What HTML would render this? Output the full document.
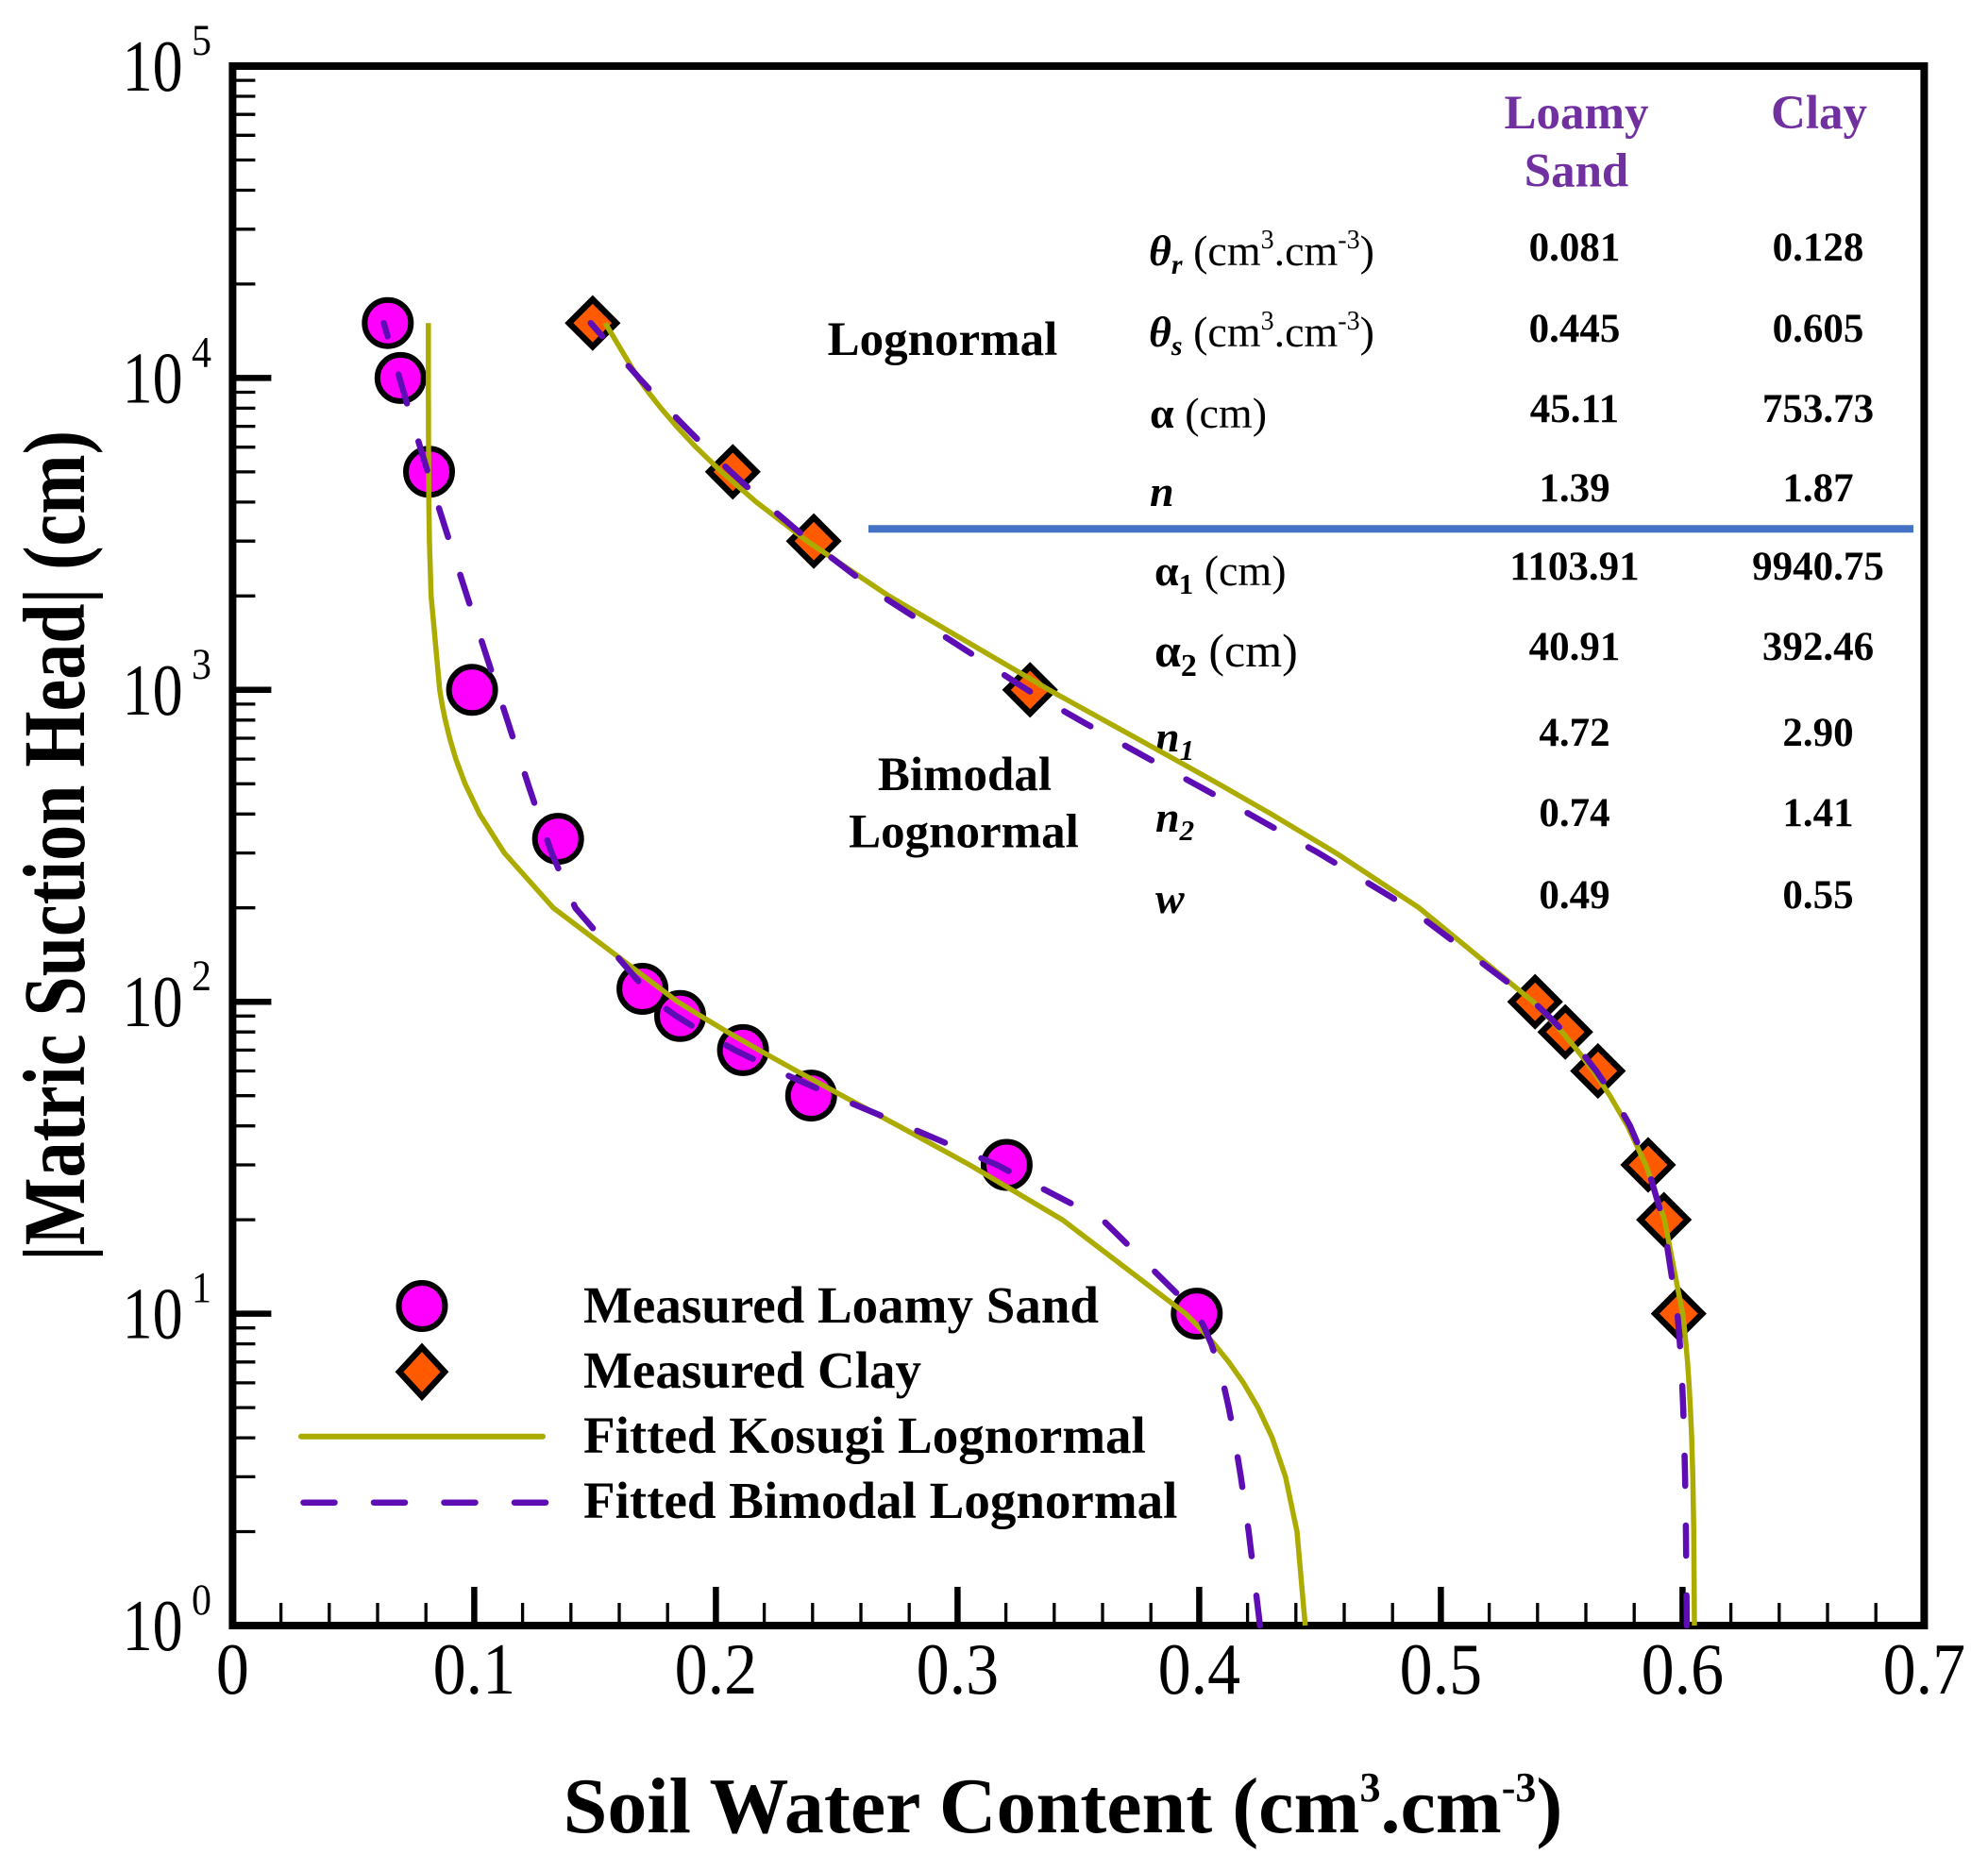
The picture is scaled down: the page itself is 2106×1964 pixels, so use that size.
<!DOCTYPE html>
<html>
<head>
<meta charset="utf-8">
<style>
  html,body{margin:0;padding:0;background:#fff;}
  svg{display:block;}
  text{font-family:"Liberation Serif","Times New Roman",serif;}
</style>
</head>
<body>
<svg id="chart" xmlns="http://www.w3.org/2000/svg" width="2106" height="1964" viewBox="0 0 2106 1964">
  <rect x="0" y="0" width="2106" height="1964" fill="#fff"/>

  <!-- Ticks X -->
  <g stroke="#000" stroke-width="3.3">
    <path d="M297.6 1722V1698M348.8 1722V1698M400 1722V1698M451.2 1722V1698
             M553.6 1722V1698M604.8 1722V1698M656 1722V1698M707.2 1722V1698
             M809.6 1722V1698M860.8 1722V1698M912 1722V1698M963.2 1722V1698
             M1065.6 1722V1698M1116.8 1722V1698M1168 1722V1698M1219.2 1722V1698
             M1321.6 1722V1698M1372.8 1722V1698M1424 1722V1698M1475.2 1722V1698
             M1577.6 1722V1698M1628.8 1722V1698M1680 1722V1698M1731.2 1722V1698
             M1833.6 1722V1698M1884.8 1722V1698M1936 1722V1698M1987.2 1722V1698"/>
    <!-- Y minor -->
    <path d="M246.4 1622.5H270.4M246.4 1564.4H270.4M246.4 1523.1H270.4M246.4 1491.1H270.4M246.4 1464.9H270.4M246.4 1442.8H270.4M246.4 1423.6H270.4M246.4 1406.7H270.4
             M246.4 1292.1H270.4M246.4 1234H270.4M246.4 1192.7H270.4M246.4 1160.7H270.4M246.4 1134.5H270.4M246.4 1112.4H270.4M246.4 1093.2H270.4M246.4 1076.3H270.4
             M246.4 961.7H270.4M246.4 903.6H270.4M246.4 862.3H270.4M246.4 830.3H270.4M246.4 804.1H270.4M246.4 782H270.4M246.4 762.8H270.4M246.4 745.9H270.4
             M246.4 631.3H270.4M246.4 573.2H270.4M246.4 531.9H270.4M246.4 499.9H270.4M246.4 473.7H270.4M246.4 451.6H270.4M246.4 432.4H270.4M246.4 415.5H270.4
             M246.4 300.9H270.4M246.4 242.8H270.4M246.4 201.5H270.4M246.4 169.5H270.4M246.4 143.3H270.4M246.4 121.2H270.4M246.4 102H270.4M246.4 85.1H270.4"/>
  </g>
  <g stroke="#000" stroke-width="6.5">
    <path d="M502.4 1722V1681M758.4 1722V1681M1014.4 1722V1681M1270.4 1722V1681M1526.4 1722V1681M1782.4 1722V1681"/>
    <path d="M246.4 1391.6H287.4M246.4 1061.2H287.4M246.4 730.8H287.4M246.4 400.4H287.4"/>
  </g>

  <!-- Axis box -->
  <rect x="246.4" y="70" width="1792" height="1652" fill="none" stroke="#000" stroke-width="8" stroke-linejoin="miter"/>

  <!-- Blue separator line -->
  <line x1="920" y1="560.3" x2="2027" y2="560.3" stroke="#4472C4" stroke-width="8"/>

  <!-- X tick labels -->
  <g font-size="70" text-anchor="middle" fill="#000">
    <text transform="translate(246.4,1794) scale(1,1.1)">0</text>
    <text transform="translate(502.4,1794) scale(1,1.1)">0.1</text>
    <text transform="translate(758.4,1794) scale(1,1.1)">0.2</text>
    <text transform="translate(1014.4,1794) scale(1,1.1)">0.3</text>
    <text transform="translate(1270.4,1794) scale(1,1.1)">0.4</text>
    <text transform="translate(1526.4,1794) scale(1,1.1)">0.5</text>
    <text transform="translate(1782.4,1794) scale(1,1.1)">0.6</text>
    <text transform="translate(2038.4,1794) scale(1,1.1)">0.7</text>
  </g>

  <!-- Y tick labels -->
  <g fill="#000">
    <text font-size="64" transform="translate(129.6,1748) scale(1,1.2)">10</text>
    <text font-size="42" transform="translate(203,1710) scale(1,1.12)">0</text>
    <text font-size="64" transform="translate(129.6,1417.6) scale(1,1.2)">10</text>
    <text font-size="42" transform="translate(203,1379.6) scale(1,1.12)">1</text>
    <text font-size="64" transform="translate(129.6,1087.2) scale(1,1.2)">10</text>
    <text font-size="42" transform="translate(203,1049.2) scale(1,1.12)">2</text>
    <text font-size="64" transform="translate(129.6,756.8) scale(1,1.2)">10</text>
    <text font-size="42" transform="translate(203,718.8) scale(1,1.12)">3</text>
    <text font-size="64" transform="translate(129.6,426.4) scale(1,1.2)">10</text>
    <text font-size="42" transform="translate(203,388.4) scale(1,1.12)">4</text>
    <text font-size="64" transform="translate(129.6,96) scale(1,1.2)">10</text>
    <text font-size="42" transform="translate(203,58) scale(1,1.12)">5</text>
  </g>

  <!-- Axis titles -->
  <text fill="#000" font-size="76" font-weight="bold" text-anchor="middle" transform="translate(89,896) rotate(-90) scale(1,1.22)">|Matric Suction Head| (cm)</text>
  <text fill="#000" x="1126" y="1941" font-size="84" font-weight="bold" text-anchor="middle">Soil Water Content (cm<tspan font-size="44" dy="-33">3</tspan><tspan dy="33">.cm</tspan><tspan font-size="44" dy="-33">-3</tspan><tspan dy="33">)</tspan></text>

  <!-- Table -->
  <g font-size="51" font-weight="bold" text-anchor="middle" style="fill:#7030A0">
    <text x="1670" y="136" style="fill:#7030A0">Loamy</text>
    <text x="1670" y="197.5" style="fill:#7030A0">Sand</text>
    <text x="1927" y="136" style="fill:#7030A0">Clay</text>
  </g>
  <g font-size="51" font-weight="bold" text-anchor="middle" fill="#000">
    <text x="998.5" y="376">Lognormal</text>
    <text x="1022" y="837">Bimodal</text>
    <text x="1021" y="897.5">Lognormal</text>
  </g>
  <g font-size="43" font-weight="bold" text-anchor="middle" fill="#000">
    <text x="1668" y="276">0.081</text><text x="1926" y="276">0.128</text>
    <text x="1668" y="362">0.445</text><text x="1926" y="362">0.605</text>
    <text x="1668" y="447">45.11</text><text x="1926" y="447">753.73</text>
    <text x="1668" y="531">1.39</text><text x="1926" y="531">1.87</text>
    <text x="1668" y="614">1103.91</text><text x="1926" y="614">9940.75</text>
    <text x="1668" y="699">40.91</text><text x="1926" y="699">392.46</text>
    <text x="1668" y="790">4.72</text><text x="1926" y="790">2.90</text>
    <text x="1668" y="875">0.74</text><text x="1926" y="875">1.41</text>
    <text x="1668" y="962">0.49</text><text x="1926" y="962">0.55</text>
  </g>
  <g font-size="46" fill="#000">
    <text x="1217" y="281"><tspan font-weight="bold" font-style="italic">θ</tspan><tspan font-size="30" font-weight="bold" font-style="italic" dy="9">r</tspan><tspan dy="-9"> (cm</tspan><tspan font-size="28" dy="-18">3</tspan><tspan dy="18">.cm</tspan><tspan font-size="28" dy="-18">-3</tspan><tspan dy="18">)</tspan></text>
    <text x="1217" y="367"><tspan font-weight="bold" font-style="italic">θ</tspan><tspan font-size="30" font-weight="bold" font-style="italic" dy="9">s</tspan><tspan dy="-9"> (cm</tspan><tspan font-size="28" dy="-18">3</tspan><tspan dy="18">.cm</tspan><tspan font-size="28" dy="-18">-3</tspan><tspan dy="18">)</tspan></text>
    <text x="1218" y="453"><tspan font-weight="bold">α</tspan> (cm)</text>
    <text x="1218" y="536" font-weight="bold" font-style="italic">n</text>
    <text x="1223" y="620"><tspan font-weight="bold">α</tspan><tspan font-size="31" font-weight="bold" dy="9">1</tspan><tspan dy="-9"> (cm)</tspan></text>
    <text x="1223" y="706" font-size="50"><tspan font-weight="bold">α</tspan><tspan font-size="34" font-weight="bold" dy="10">2</tspan><tspan dy="-10"> (cm)</tspan></text>
    <text x="1224" y="796"><tspan font-weight="bold" font-style="italic">n</tspan><tspan font-size="31" font-weight="bold" font-style="italic" dy="9">1</tspan></text>
    <text x="1224" y="881"><tspan font-weight="bold" font-style="italic">n</tspan><tspan font-size="31" font-weight="bold" font-style="italic" dy="9">2</tspan></text>
    <text x="1224" y="967" font-weight="bold" font-style="italic">w</text>
  </g>

  <!-- Markers: loamy sand -->
  <g fill="#FF00FF" stroke="#000" stroke-width="6">
    <circle cx="410.8" cy="342.2" r="24.5"/>
    <circle cx="424.3" cy="400.4" r="24.5"/>
    <circle cx="454.5" cy="499.8" r="24.5"/>
    <circle cx="500.1" cy="730.8" r="24.5"/>
    <circle cx="591.2" cy="888.6" r="24.5"/>
    <circle cx="680.6" cy="1047.5" r="24.5"/>
    <circle cx="720.5" cy="1076.3" r="24.5"/>
    <circle cx="787.1" cy="1112.4" r="24.5"/>
    <circle cx="859.3" cy="1160.6" r="24.5"/>
    <circle cx="1066.4" cy="1234" r="24.5"/>
    <circle cx="1267.8" cy="1391.6" r="24.5"/>
  </g>
  <!-- Markers: clay -->
  <g fill="#FF5A00" stroke="#000" stroke-width="6.5" stroke-linejoin="miter">
    <path transform="translate(627.8,342.2)" d="M0-25L25 0L0 25L-25 0Z"/>
    <path transform="translate(776.3,499.8)" d="M0-25L25 0L0 25L-25 0Z"/>
    <path transform="translate(862.1,573.2)" d="M0-25L25 0L0 25L-25 0Z"/>
    <path transform="translate(1091.2,730.8)" d="M0-25L25 0L0 25L-25 0Z"/>
    <path transform="translate(1626.2,1061.2)" d="M0-25L25 0L0 25L-25 0Z"/>
    <path transform="translate(1658.2,1093.2)" d="M0-25L25 0L0 25L-25 0Z"/>
    <path transform="translate(1692.8,1134.5)" d="M0-25L25 0L0 25L-25 0Z"/>
    <path transform="translate(1746,1234)" d="M0-25L25 0L0 25L-25 0Z"/>
    <path transform="translate(1762.7,1292.1)" d="M0-25L25 0L0 25L-25 0Z"/>
    <path transform="translate(1778.3,1391.6)" d="M0-25L25 0L0 25L-25 0Z"/>
  </g>

  <!-- Curves -->
  <g fill="none" stroke-linejoin="round">
    <path id="ks1" stroke="#ACAC00" stroke-width="5.5" d=""/>
    <path id="ks2" stroke="#ACAC00" stroke-width="5.5" d=""/>
    <path id="bm1" stroke="#5E0DB4" stroke-width="6.5" stroke-dasharray="32 42" stroke-linecap="round" d=""/>
    <path id="bm2" stroke="#5E0DB4" stroke-width="6.5" stroke-dasharray="32 42" stroke-linecap="round" d=""/>
  </g>

  <!-- Legend -->
  <circle cx="447" cy="1383.5" r="24.5" fill="#FF00FF" stroke="#000" stroke-width="6"/>
  <path transform="translate(447,1453.3)" d="M0-26L24 0L0 26L-24 0Z" fill="#FF5A00" stroke="#000" stroke-width="6.5"/>
  <line x1="319" y1="1521.7" x2="575" y2="1521.7" stroke="#ACAC00" stroke-width="6" stroke-linecap="round"/>
  <line x1="321.5" y1="1591.7" x2="578" y2="1591.7" stroke="#5E0DB4" stroke-width="6.5" stroke-dasharray="33 41.5" stroke-linecap="round"/>
  <g font-size="55" font-weight="bold" fill="#000">
    <text x="618" y="1401">Measured Loamy Sand</text>
    <text x="618" y="1470">Measured Clay</text>
    <text x="618" y="1539">Fitted Kosugi Lognormal</text>
    <text x="618" y="1608">Fitted Bimodal Lognormal</text>
  </g>
</svg>
<script>
(function(){
  function erfc(x){
    var z=Math.abs(x), t=1/(1+0.5*z);
    var r=t*Math.exp(-z*z-1.26551223+t*(1.00002368+t*(0.37409196+t*(0.09678418+t*(-0.18628806+t*(0.27886807+t*(-1.13520398+t*(1.48851587+t*(-0.82215223+t*0.17087277)))))))));
    return x>=0?r:2-r;
  }
  function Q(z){return 0.5*erfc(z/Math.SQRT2);}
  var hs=[];
  for(var k=0;k<4;k++){for(var m=1;m<10;m++){hs.push(m*Math.pow(10,k));}}
  hs.push(10000);hs.push(15000);
  function X(t){return 246.4+2560*t;}
  function Y(h){return 1722-330.4*Math.log(h)/Math.LN10;}
  function path(f){
    var s='';
    for(var i=0;i<hs.length;i++){
      s+=(i?'L':'M')+X(f(hs[i])).toFixed(1)+' '+Y(hs[i]).toFixed(1)+' ';
    }
    return s;
  }
  function kos(tr,ts,a,n){return function(h){return tr+(ts-tr)*Q(Math.log(h/a)/n);};}
  function bim(tr,ts,a1,a2,n1,n2,w){return function(h){
    return tr+(ts-tr)*(w*Q(Math.log(h/a1)/n1)+(1-w)*Q(Math.log(h/a2)/n2));};}
  document.getElementById('ks1').setAttribute('d',path(kos(0.081,0.445,45.11,1.39)));
  document.getElementById('ks2').setAttribute('d',path(kos(0.128,0.605,753.73,1.87)));
  document.getElementById('bm1').setAttribute('d',path(bim(0.0,0.44,1103.91,40.91,4.72,0.74,0.49)));
  document.getElementById('bm2').setAttribute('d',path(bim(0.0,0.602,9940.75,392.46,2.90,1.41,0.55)));
})();
</script>
</body>
</html>
